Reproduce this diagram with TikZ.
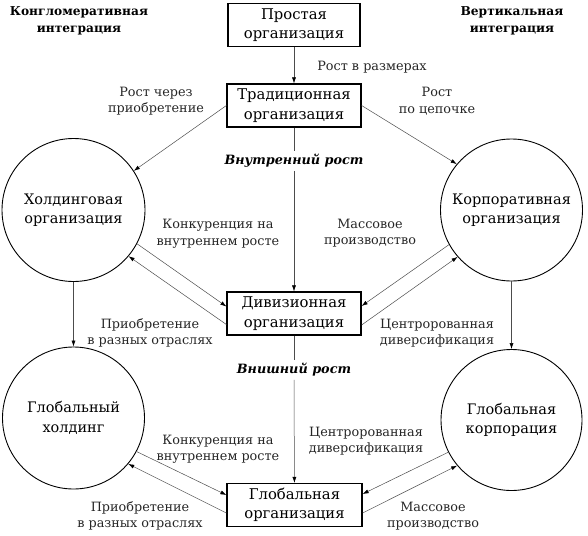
\documentclass[tikz,border=0pt]{standalone}
\usepackage{fontspec}
\setmainfont{DejaVu Serif}
\usetikzlibrary{arrows.meta,calc}
\begin{document}
\begin{tikzpicture}[x=1pt,y=-1pt,
  orgbox/.style={draw=black,line width=1.2pt,fill=white,minimum height=43pt,inner sep=2pt,align=center,font=\fontsize{14.8}{19.5}\selectfont},
  orgcirc/.style={draw=black,line width=0.9pt,circle,inner sep=0pt,align=center,font=\fontsize{14.5}{19.5}\selectfont},
  lbl/.style={align=center,font=\fontsize{12.8}{16.5}\selectfont,text=black!85},
  head/.style={align=center,font=\bfseries\fontsize{12.2}{17}\selectfont},
  growth/.style={font=\bfseries\itshape\fontsize{12.8}{15}\selectfont,fill=white,inner sep=3pt},
  conn/.style={draw=black!70,line width=0.5pt,-{Latex[length=6pt,width=4pt,black]}}
]
\path[use as bounding box] (0,0) rectangle (588,535);

% boxes
\node[orgbox,minimum width=132pt] (simple) at (294,25) {Простая\\организация};
\node[orgbox,minimum width=134pt] (trad) at (294,105.5) {Традиционная\\организация};
\node[orgbox,minimum width=134pt] (div) at (294,313.5) {Дивизионная\\организация};
\node[orgbox,minimum width=135pt] (go) at (294.5,505) {Глобальная\\организация};

% circles
\node[orgcirc,minimum size=143pt] (hold) at (73.5,210) {Холдинговая\\организация};
\node[orgcirc,minimum size=142pt] (corp) at (511.5,210) {Корпоративная\\организация};
\node[orgcirc,minimum size=142pt] (gh) at (73.5,418) {Глобальный\\холдинг};
\node[orgcirc,minimum size=141pt] (gc) at (511.5,420) {Глобальная\\корпорация};

% headings
\node[head] (hl) at (79,21) {Конгломеративная\\интеграция};
\node[head] (hr) at (512,21) {Вертикальная\\интеграция};

% growth labels
\node[growth] (inner) at (294,161) {Внутренний рост};
\node[growth] (outer) at (294,370) {Внишний рост};

% connectors
\draw[conn] (simple) -- (trad);
\draw[conn] (trad.west) -- (hold.33);
\draw[conn] (trad.east) -- (corp.140);
\draw[draw=black!70,line width=0.5pt] (trad) -- (inner);
\draw[conn] (inner) -- (div);
\draw[draw=black!70,line width=0.5pt] (div) -- (outer);
\draw[conn] (outer) -- (go);
\draw[conn] (hold.south) -- (gh.north);
\draw[conn] (corp.south) -- (gc.north);

\draw[conn] (hold.-28) -- ($(div.west)+(0,-7)$);
\draw[conn] ($(div.west)+(0,11)$) -- (hold.-40);
\draw[conn] (corp.209) -- ($(div.east)+(0,-7.5)$);
\draw[conn] ($(div.east)+(0,11.5)$) -- (corp.221);

\draw[conn] (gh.-28) -- ($(go.west)+(0,-10)$);
\draw[conn] ($(go.west)+(0,8)$) -- (gh.-40);
\draw[conn] (gc.207) -- ($(go.east)+(0,-11)$);
\draw[conn] ($(go.east)+(0,8)$) -- (gc.220);

% connector labels
\node[lbl] (l1) at (372,67) {Рост в размерах};
\node[lbl] (l2) at (156,101) {Рост через\\приобретение};
\node[lbl] (l3) at (437,101) {Рост\\по цепочке};
\node[lbl] (l4) at (218,234) {Конкуренция на\\внутреннем росте};
\node[lbl] (l5) at (370,233) {Массовое\\производство};
\node[lbl] (l6) at (150,333) {Приобретение\\в разных отраслях};
\node[lbl] (l7) at (437,333) {Центророванная\\диверсификация};
\node[lbl] (l8) at (218,449) {Конкуренция на\\внутреннем росте};
\node[lbl] (l9) at (366,441) {Центророванная\\диверсификация};
\node[lbl] (l10) at (140,516) {Приобретение\\в разных отраслях};
\node[lbl] (l11) at (433,516) {Массовое\\производство};
\end{tikzpicture}
\end{document}
